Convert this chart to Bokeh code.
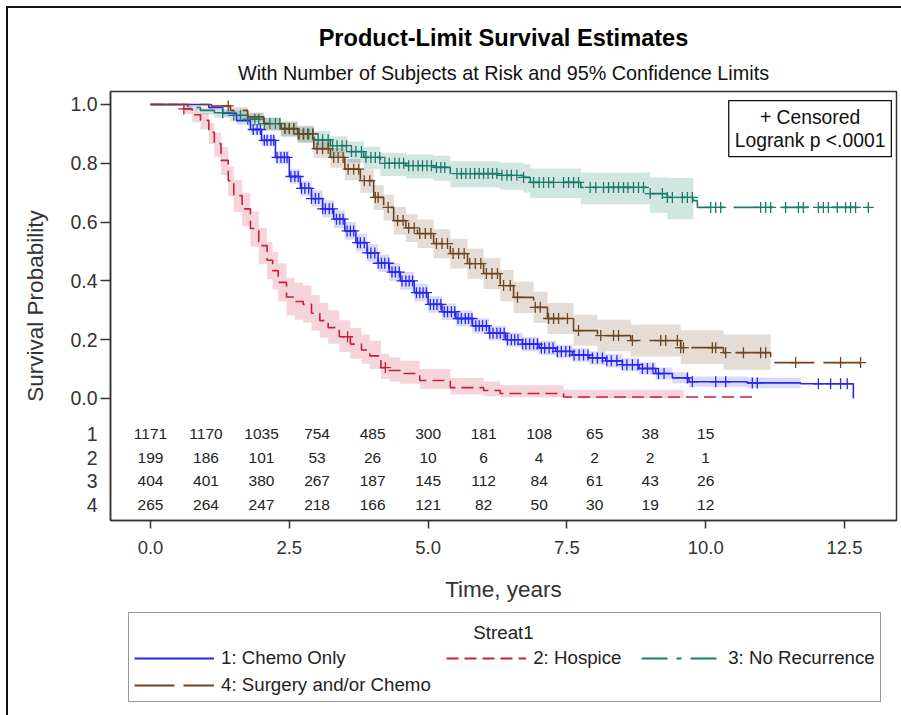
from bisect import bisect_right
from bokeh.plotting import figure
from bokeh.layouts import column
from bokeh.models import (Range1d, FixedTicker, PrintfTickFormatter, Title, Label,
                          Legend, LegendItem)
from bokeh.core.properties import value
from bokeh.embed import file_html
from bokeh.resources import INLINE

# ---------------- data ----------------
groups = ["1: Chemo Only", "2: Hospice", "3: No Recurrence", "4: Surgery and/or Chemo"]

# 1: Chemo Only
t_chemo = [0, 1.05, 1.3, 1.55, 1.8, 2.0, 2.25, 2.5, 2.7, 2.9, 3.1, 3.3, 3.5, 3.7, 3.9, 4.1, 4.3, 4.5,
           4.75, 5.0, 5.25, 5.5, 5.8, 6.1, 6.4, 6.7, 7.0, 7.3, 7.6, 7.9, 8.2, 8.5, 8.8, 9.1, 9.4, 9.7,
           10.75, 11.71, 12.66]
s_chemo = [1.0, 0.99, 0.97, 0.945, 0.915, 0.878, 0.82, 0.755, 0.715, 0.68, 0.645, 0.61, 0.57, 0.53,
           0.495, 0.46, 0.43, 0.40, 0.36, 0.32, 0.295, 0.272, 0.247, 0.222, 0.2, 0.185, 0.172, 0.16,
           0.148, 0.138, 0.128, 0.115, 0.102, 0.085, 0.07, 0.057, 0.053, 0.05, 0.0]
lo_chemo = [1.0, 0.984, 0.96, 0.932, 0.898, 0.858, 0.797, 0.73, 0.689, 0.652, 0.616, 0.58, 0.54, 0.5,
            0.465, 0.43, 0.4, 0.37, 0.33, 0.292, 0.267, 0.245, 0.221, 0.197, 0.176, 0.161, 0.148,
            0.137, 0.125, 0.115, 0.105, 0.093, 0.081, 0.065, 0.051, 0.039, 0.035]
hi_chemo = [1.0, 0.996, 0.98, 0.958, 0.932, 0.898, 0.843, 0.78, 0.741, 0.708, 0.674, 0.64, 0.6, 0.56,
            0.525, 0.49, 0.46, 0.43, 0.39, 0.348, 0.323, 0.299, 0.273, 0.247, 0.224, 0.209, 0.196,
            0.183, 0.171, 0.161, 0.151, 0.137, 0.123, 0.105, 0.089, 0.075, 0.071]
band_end_chemo = 11.71
cens_chemo = [1.85, 1.92, 1.98, 2.05, 2.1, 2.17, 2.22, 2.28, 2.35, 2.41, 2.46, 2.53, 2.6, 2.66, 2.72,
              2.78, 2.85, 2.9, 2.97, 3.03, 3.1, 3.15, 3.22, 3.28, 3.35, 3.41, 3.47, 3.54, 3.6, 3.66,
              3.73, 3.78, 3.85, 3.91, 3.97, 4.04, 4.1, 4.16, 4.22, 4.29, 4.35, 4.41, 4.48, 4.53, 4.6,
              4.66, 4.72, 4.79, 4.85, 4.91, 4.97, 5.04, 5.1, 5.16, 5.23, 5.29, 5.35, 5.42, 5.48, 5.54,
              5.6, 5.67, 5.73, 5.79, 5.86, 5.92, 5.98, 6.05, 6.11, 6.17, 6.24, 6.3, 6.37, 6.43, 6.5,
              6.56, 6.62, 6.7, 6.76, 6.83, 6.9, 6.97, 7.04, 7.1, 7.18, 7.25, 7.33, 7.4, 7.48, 7.55,
              7.63, 7.72, 7.8, 7.88, 7.96, 8.05, 8.14, 8.22, 8.3, 8.4, 8.5, 8.58, 8.68, 8.78, 8.86,
              8.95, 9.05, 9.15, 9.25, 9.67, 9.76, 10.18, 10.36, 10.84, 10.93, 12.03, 12.25, 12.43, 12.55]

# 2: Hospice
t_hosp = [0, 0.6, 0.75, 0.9, 1.05, 1.15, 1.27, 1.4, 1.5, 1.65, 1.8, 1.95, 2.1, 2.2, 2.3, 2.45, 2.6,
          2.75, 2.9, 3.05, 3.2, 3.4, 3.6, 3.8, 3.95, 4.15, 4.3, 4.5, 4.85, 5.4, 6.0, 6.3, 7.44, 10.93]
s_hosp = [1.0, 0.985, 0.965, 0.946, 0.905, 0.867, 0.81, 0.741, 0.69, 0.645, 0.578, 0.52, 0.47, 0.435,
          0.395, 0.345, 0.33, 0.32, 0.29, 0.265, 0.241, 0.21, 0.185, 0.165, 0.145, 0.105, 0.095, 0.085,
          0.061, 0.037, 0.027, 0.017, 0.005, 0.005]
lo_hosp = [1.0, 0.968, 0.94, 0.915, 0.866, 0.822, 0.76, 0.688, 0.634, 0.586, 0.516, 0.457, 0.406,
           0.371, 0.331, 0.282, 0.268, 0.258, 0.23, 0.207, 0.186, 0.158, 0.135, 0.118, 0.1, 0.066,
           0.058, 0.05, 0.032, 0.014, 0.008, 0.004, 0.001]
hi_hosp = [1.0, 0.995, 0.983, 0.97, 0.937, 0.905, 0.855, 0.79, 0.742, 0.7, 0.636, 0.58, 0.532, 0.498,
           0.46, 0.41, 0.394, 0.384, 0.352, 0.326, 0.3, 0.266, 0.24, 0.218, 0.196, 0.152, 0.14, 0.128,
           0.1, 0.07, 0.058, 0.045, 0.03]
band_end_hosp = 9.6
cens_hosp = [0.6, 3.55, 4.23]

# 3: No Recurrence
t_norec = [0, 0.67, 0.9, 1.15, 1.44, 1.75, 2.04, 2.35, 2.65, 2.95, 3.24, 3.55, 3.84, 4.14, 4.6, 5.1,
           5.4, 6.3, 6.72, 6.84, 7.75, 9.0, 9.31, 9.78, 9.85, 12.93]
s_norec = [1.0, 0.99, 0.98, 0.972, 0.963, 0.95, 0.935, 0.918, 0.90, 0.88, 0.86, 0.84, 0.82, 0.80,
           0.792, 0.786, 0.765, 0.759, 0.752, 0.735, 0.718, 0.697, 0.684, 0.673, 0.65, 0.65]
lo_norec = [1.0, 0.98, 0.966, 0.955, 0.943, 0.927, 0.909, 0.889, 0.869, 0.846, 0.824, 0.802, 0.78,
            0.757, 0.748, 0.741, 0.718, 0.71, 0.701, 0.682, 0.661, 0.632, 0.61]
hi_norec = [1.0, 0.997, 0.99, 0.985, 0.979, 0.969, 0.957, 0.943, 0.928, 0.91, 0.892, 0.874, 0.856,
            0.836, 0.83, 0.826, 0.807, 0.802, 0.797, 0.782, 0.769, 0.752, 0.75]
band_end_norec = 9.78
cens_norec = [1.3, 1.5, 1.62, 1.75, 1.88, 1.95, 2.05, 2.15, 2.25, 2.33, 2.42, 2.5, 2.58, 2.68, 2.76,
              2.85, 2.93, 3.02, 3.1, 3.2, 3.28, 3.36, 3.45, 3.53, 3.62, 3.7, 3.8, 3.88, 3.97, 4.05,
              4.13, 4.22, 4.3, 4.4, 4.48, 4.56, 4.65, 4.73, 4.82, 4.9, 4.98, 5.06, 5.15, 5.23, 5.3,
              5.52, 5.6, 5.68, 5.76, 5.84, 5.92, 6.0, 6.08, 6.16, 6.24, 6.33, 6.42, 6.5, 6.6, 6.72,
              6.9, 7.0, 7.08, 7.17, 7.26, 7.44, 7.53, 7.62, 7.71, 7.92, 8.02, 8.16, 8.25, 8.34, 8.43,
              8.52, 8.6, 8.7, 8.79, 8.88, 9.0, 9.22, 9.31, 9.4, 9.58, 9.67, 9.76, 10.09, 10.18, 10.27,
              10.99, 11.08, 11.17, 11.44, 11.67, 11.76, 12.03, 12.12, 12.21, 12.37, 12.52, 12.61,
              12.7, 12.93]

# 4: Surgery and/or Chemo
t_surg = [0, 1.1, 1.44, 1.75, 2.04, 2.35, 2.65, 2.94, 3.24, 3.5, 3.78, 4.02, 4.2, 4.38, 4.6, 4.81,
          5.1, 5.4, 5.71, 6.0, 6.3, 6.54, 6.9, 7.15, 7.62, 8.05, 8.65, 9.55, 10.32, 11.17, 12.79]
s_surg = [1.0, 0.995, 0.98, 0.958, 0.935, 0.918, 0.90, 0.85, 0.82, 0.78, 0.741, 0.684, 0.65, 0.605,
          0.58, 0.561, 0.527, 0.493, 0.459, 0.425, 0.384, 0.344, 0.31, 0.272, 0.231, 0.214, 0.197,
          0.173, 0.156, 0.122, 0.122]
lo_surg = [1.0, 0.988, 0.966, 0.94, 0.913, 0.893, 0.872, 0.818, 0.785, 0.742, 0.7, 0.641, 0.605,
           0.558, 0.532, 0.512, 0.477, 0.442, 0.407, 0.372, 0.331, 0.291, 0.257, 0.219, 0.179, 0.161,
           0.143, 0.117, 0.098]
hi_surg = [1.0, 0.999, 0.991, 0.973, 0.954, 0.94, 0.925, 0.879, 0.852, 0.815, 0.779, 0.725, 0.693,
           0.651, 0.627, 0.609, 0.576, 0.543, 0.51, 0.477, 0.437, 0.397, 0.363, 0.325, 0.285, 0.268,
           0.252, 0.232, 0.218]
band_end_surg = 11.17
cens_surg = [1.4, 2.42, 2.5, 2.58, 2.66, 2.75, 2.83, 2.92, 3.0, 3.1, 3.2, 3.3, 3.38, 3.47, 3.56, 3.66,
             3.75, 3.85, 3.95, 4.05, 4.1, 4.28, 4.45, 4.55, 4.65, 4.75, 4.85, 4.95, 5.05, 5.15, 5.25,
             5.35, 5.45, 5.55, 5.65, 5.75, 5.85, 5.95, 6.05, 6.15, 6.25, 6.36, 6.48, 6.61, 6.93, 7.02,
             7.17, 7.26, 7.35, 7.51, 7.71, 8.11, 8.34, 8.43, 8.68, 9.19, 9.28, 9.49, 9.55, 9.6, 10.12,
             10.18, 10.36, 10.68, 10.99, 11.08, 11.62, 12.43, 12.79]

# Number at risk table
risk_times = [0, 1, 2, 3, 4, 5, 6, 7, 8, 9, 10]
risk_chemo = [1171, 1170, 1035, 754, 485, 300, 181, 108, 65, 38, 15]
risk_hosp = [199, 186, 101, 53, 26, 10, 6, 4, 2, 2, 1]
risk_norec = [404, 401, 380, 267, 187, 145, 112, 84, 61, 43, 26]
risk_surg = [265, 264, 247, 218, 166, 121, 82, 50, 30, 19, 12]
risk_labels = ["1", "2", "3", "4"]

x_ticks = [0, 2.5, 5, 7.5, 10, 12.5]
y_ticks = [0, 0.2, 0.4, 0.6, 0.8, 1.0]

# ---------------- styling / layout ----------------
FONT = "Liberation Sans"
colors = ["#2626F5", "#C8203A", "#1B7B6B", "#6E4520"]
band_alpha = [0.17, 0.19, 0.2, 0.19]
dashes = ["solid", "12 6", "26 9 5 9", "40 9"]

X0, X1 = -0.7205, 13.437
Y0, Y1 = -0.415, 1.0442
ROW_Y0, ROW_STEP = -0.122, 0.0797

W = 901
H_MAIN = 608
H_LEG = 107
ML, MR = 110, 5

p = figure(width=W, height=H_MAIN, output_backend="svg", toolbar_location=None,
           x_range=Range1d(X0, X1), y_range=Range1d(Y0, Y1),
           min_border_left=ML, min_border_right=MR, min_border_top=91, min_border_bottom=88,
           background_fill_color="white", border_fill_alpha=0.0)
p.xgrid.visible = False
p.ygrid.visible = False
p.outline_line_color = "#333333"
p.outline_line_width = 1.5

# titles (later-added title sits nearer the frame)
p.title.text = "Product-Limit Survival Estimates"
p.title.align = "center"
p.title.text_font = FONT
p.title.text_font_size = "23.6px"
p.title.text_font_style = "bold"
p.title.text_color = "#000000"
p.title.standoff = 3
sub_title = Title(text="With Number of Subjects at Risk and 95% Confidence Limits", align="center",
                  text_font=FONT, text_font_size="19.8px", text_font_style="normal",
                  text_color="#111111", standoff=15)
p.add_layout(sub_title, "above")

# axes
for ax in (p.xaxis[0], p.yaxis[0]):
    ax.axis_line_color = "#333333"
    ax.axis_line_width = 1.5
    ax.major_tick_line_color = "#333333"
    ax.major_tick_line_width = 1.5
    ax.major_tick_in = 0
    ax.minor_tick_line_color = None
    ax.major_label_text_font = FONT
    ax.major_label_text_color = "#333333"
    ax.axis_label_text_font = FONT
    ax.axis_label_text_font_style = "normal"
    ax.axis_label_text_color = "#333333"
    ax.axis_label_text_font_size = "22.5px"

p.xaxis.ticker = FixedTicker(ticks=x_ticks)
p.xaxis.formatter = PrintfTickFormatter(format="%.1f")
p.xaxis.major_tick_out = 8
p.xaxis.major_label_text_font_size = "18.5px"
p.xaxis.major_label_standoff = 12
p.xaxis.axis_label = "Time, years"
p.xaxis.axis_label_standoff = 20

# y axis: labels for probabilities and for the risk-table rows; visible tick marks only at
# the probability values (drawn as "minor" ticks), none at the risk rows.
row_ys = [round(ROW_Y0 - k * ROW_STEP, 4) for k in range(len(risk_labels))]
p.yaxis.ticker = FixedTicker(ticks=y_ticks + row_ys, minor_ticks=y_ticks)
p.yaxis.formatter = PrintfTickFormatter(format="%.1f")
p.yaxis.major_label_overrides = {y: lab for y, lab in zip(row_ys, risk_labels)}
p.yaxis.major_tick_line_color = None
p.yaxis.major_tick_out = 10
p.yaxis.minor_tick_line_color = "#333333"
p.yaxis.minor_tick_line_width = 1.5
p.yaxis.minor_tick_out = 10
p.yaxis.minor_tick_in = 0
p.yaxis.major_label_text_font_size = "19.5px"
p.yaxis.major_label_standoff = 3
p.yaxis.axis_label = "Survival Probability"
p.yaxis.axis_label_standoff = 19


def surv_at(ts, ss, t):
    return ss[bisect_right(ts, t) - 1]


series = [
    (t_chemo, s_chemo, lo_chemo, hi_chemo, band_end_chemo, cens_chemo),
    (t_hosp, s_hosp, lo_hosp, hi_hosp, band_end_hosp, cens_hosp),
    (t_norec, s_norec, lo_norec, hi_norec, band_end_norec, cens_norec),
    (t_surg, s_surg, lo_surg, hi_surg, band_end_surg, cens_surg),
]

# confidence bands first
for i, (ts, ss, lo, hi, bend, cens) in enumerate(series):
    bx = [t for t in ts if t < bend][:len(lo)] + [bend]
    p.varea_step(x=bx, y1=lo + [lo[-1]], y2=hi + [hi[-1]], step_mode="after",
                 fill_color=colors[i], fill_alpha=band_alpha[i])

for i, (ts, ss, lo, hi, bend, cens) in enumerate(series):
    p.step(x=ts, y=ss, mode="after", line_color=colors[i], line_width=1.6, line_dash=dashes[i])
    cy = [surv_at(ts, ss, t) for t in cens]
    p.scatter(x=cens, y=cy, marker="cross", size=11, line_color=colors[i], line_width=1.3)

# number at risk table
risk_all = [risk_chemo, risk_hosp, risk_norec, risk_surg]
for k, row in enumerate(risk_all):
    p.text(x=risk_times, y=[row_ys[k]] * len(row), text=[str(v) for v in row], text_align="center",
           text_baseline="middle", text_font=value(FONT), text_font_size="15.5px",
           text_color="#222222")

# censored / logrank inset
p.add_layout(Label(x=11.88, y=0.918, text="+ Censored\nLogrank p <.0001", text_align="center",
                   text_baseline="middle", text_font=FONT, text_font_size="19.3px",
                   text_line_height=1.1,
                   text_color="#111111", border_line_color="#111111", border_line_width=1.3,
                   background_fill_color="white", padding=6))

# ---------------- legend panel (separate figure below, frame aligned with main) ----------------
lf = figure(width=W, height=H_LEG, output_backend="svg", toolbar_location=None,
            x_range=Range1d(0, W - ML - MR), y_range=Range1d(0, H_LEG),
            x_axis_type=None, y_axis_type=None,
            min_border_left=ML, min_border_right=MR, min_border_top=0, min_border_bottom=0,
            background_fill_alpha=0.0, border_fill_alpha=0.0)
lf.xgrid.visible = False
lf.ygrid.visible = False
lf.outline_line_color = None
dummy = []
for i, (ts, ss, lo, hi, bend, cens) in enumerate(series):
    dummy.append(lf.line(x=ts, y=ss, line_color=colors[i], line_width=1.8, line_dash=dashes[i],
                         visible=False))

leg_labels = list(groups)
leg_labels[3] = groups[3] + "\u00a0\u00a0"
legend = Legend(items=[LegendItem(label=leg_labels[i], renderers=[dummy[i]]) for i in range(4)],
                orientation="horizontal", ncols=3, location=(18, 13),
                title="\u00a0", title_text_font=FONT, title_text_font_size="18.7px",
                title_standoff=7,
                label_text_font=FONT, label_text_font_size="18.7px", label_text_color="#222222",
                glyph_width=80, glyph_height=20, label_height=20, label_width=103,
                label_standoff=7, spacing=5,
                padding=5, margin=0, border_line_color="#333333", border_line_width=1.5,
                background_fill_color="white", background_fill_alpha=0.0)
lf.add_layout(legend, "center")
lf.add_layout(Label(x=393, y=83, text="Streat1", text_align="center", text_baseline="middle",
                    text_font=FONT, text_font_size="18.7px", text_color="#222222"))

page = column(p, lf, spacing=0)
page.styles = {
    "background-image": "linear-gradient(#111,#111), linear-gradient(#111,#111)",
    "background-size": "2px 100%, 100% 2px",
    "background-position": "6px 6px, 6px 6px",
    "background-repeat": "no-repeat",
}

open("out.html", "w").write(file_html(page, INLINE))
